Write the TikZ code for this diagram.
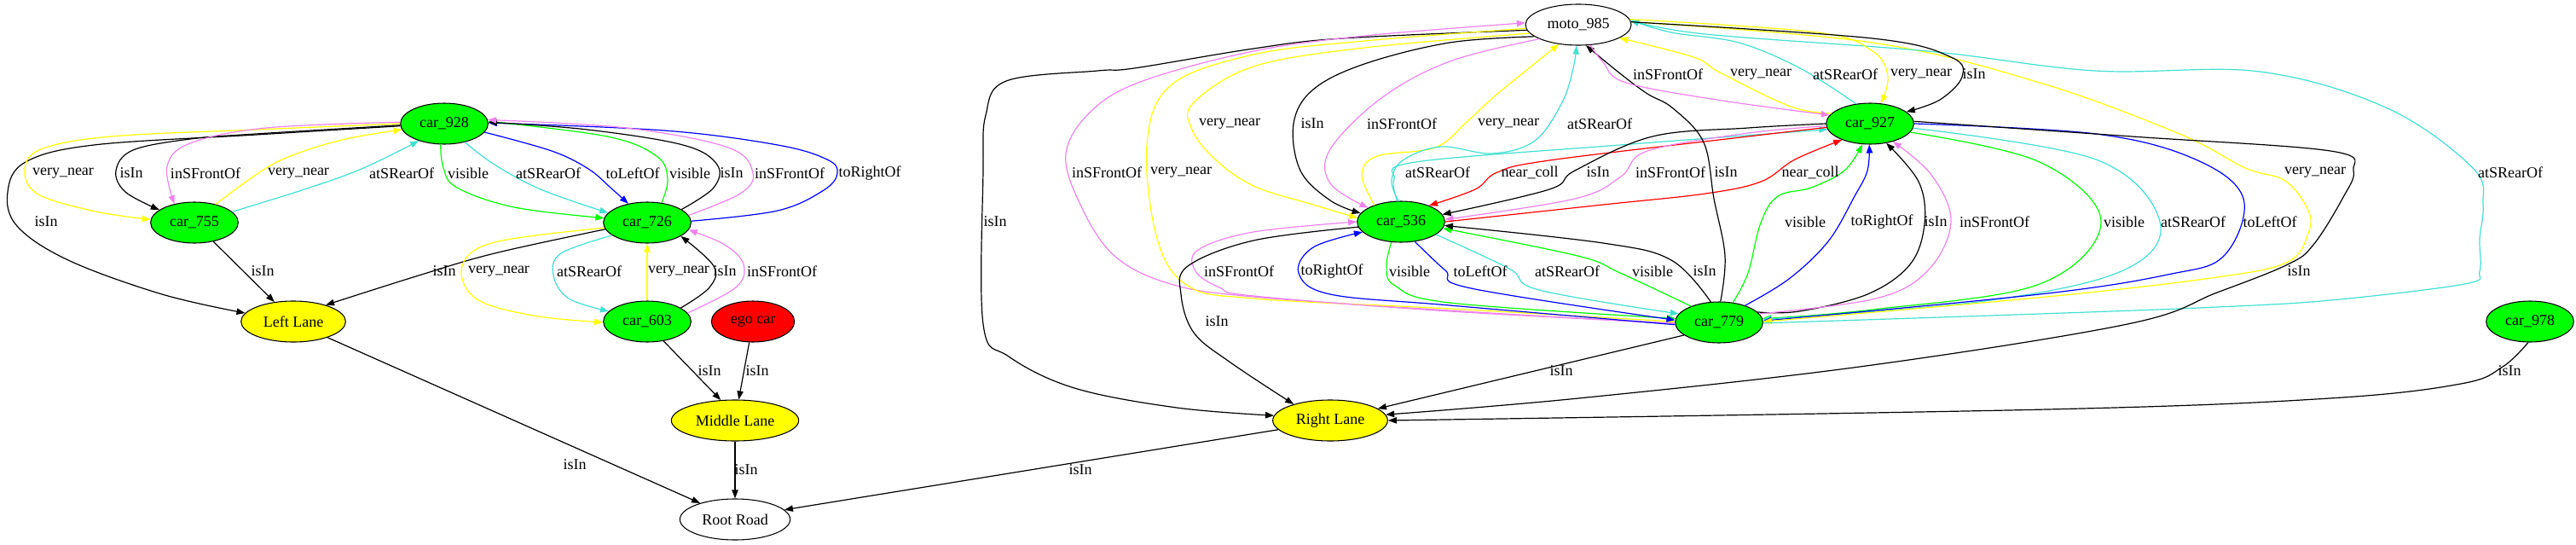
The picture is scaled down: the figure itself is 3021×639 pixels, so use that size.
\documentclass[tikz,border=0pt]{standalone}
\usepackage{fontspec}
\setmainfont{Liberation Serif}
\usetikzlibrary{shapes.geometric,arrows.meta}
\definecolor{gvgreen}{HTML}{00FF00}
\definecolor{gvyellow}{HTML}{FFFF00}
\definecolor{gvturq}{HTML}{40E0D0}
\definecolor{gvviolet}{HTML}{EE82EE}
\definecolor{gvblue}{HTML}{0000FF}
\definecolor{gvred}{HTML}{FF0000}
\begin{document}
\begin{tikzpicture}[x=0.75pt,y=-0.75pt, every node/.style={font=\fontsize{13.5}{16}\selectfont},
  gvnode/.style={ellipse,draw,line width=0.8pt,inner sep=0pt,minimum height=36pt},
  carnode/.style={gvnode,fill=gvgreen,minimum width=77pt},
  lanenode/.style={gvnode,fill=gvyellow},
  rel/.style={draw=#1,line width=0.9pt,smooth,tension=0.6,-{Triangle[length=7.5pt,width=5.5pt]}},
  lbl/.style={inner sep=0pt}]
\useasboundingbox (0,0) rectangle (3021,639);
\node[carnode] (car928) at (521,145) {car\_928};
\node[carnode] (car755) at (228,261) {car\_755};
\node[carnode] (car726) at (759,261) {car\_726};
\node[carnode] (car603) at (759,377) {car\_603};
\node[lanenode,minimum width=92pt] (leftlane) at (344,377) {Left Lane};
\node[gvnode,fill=gvred,minimum width=73pt] (egocar) at (883,377) {ego car};
\node[lanenode,minimum width=112pt] (midlane) at (862,493) {Middle Lane};
\node[gvnode,fill=white,minimum width=97pt] (rootroad) at (862,609) {Root Road};
\node[gvnode,fill=white,minimum width=93pt] (moto985) at (1851,29) {moto\_985};
\node[carnode] (car536) at (1643,260) {car\_536};
\node[carnode] (car779) at (2016,378) {car\_779};
\node[carnode] (car927) at (2193,145) {car\_927};
\node[carnode] (car978) at (2967,377) {car\_978};
\node[lanenode,minimum width=101pt] (rightlane) at (1560,493) {Right Lane};
% left group
\draw[rel=black] plot coordinates {(car928.183) (300,158) (110,170) (30,190) (9,225) (20,265) (80,305) (190,345) (leftlane.170)};
\draw[rel=gvyellow] plot coordinates {(car928.180) (300,152) (130,160) (48,175) (29,200) (45,228) (112,248) (car755.176)};
\draw[rel=black] plot coordinates {(car928.182) (300,157) (223,163) (156,176) (136,200) (147,225) (car755.160)};
\draw[rel=gvviolet] plot coordinates {(car928.178) (312,150) (223,168) (196,195) (car755.137)};
\draw[rel=gvyellow] plot coordinates {(car755.41) (312,197) (357,177) (410,162) (car928.188)};
\draw[rel=gvturq] plot coordinates {(car755.16) (357,222) (424,198) (car928.214)};
\draw[rel=black] (car755.-45) -- (leftlane.134);
\draw[rel=gvgreen] plot coordinates {(car928.-100) (520,197) (536,220) (603,243) (car726.174)};
\draw[rel=gvturq] plot coordinates {(car928.-42) (580,193) (634,222) (car726.166)};
\draw[rel=gvblue] plot coordinates {(car928.-12) (647,177) (690,198) (716,220) (car726.135)};
\draw[rel=gvblue] plot coordinates {(car726.2) (912,247) (966,223) (982,203) (970,187) (912,170) (779,153) (car928.1)};
\draw[rel=gvgreen] plot coordinates {(car726.54) (783,210) (770,183) (712,160) (car928.3)};
\draw[rel=black] plot coordinates {(car726.21) (837,220) (841,193) (801,170) (689,152) (car928.2)};
\draw[rel=gvviolet] plot coordinates {(car726.10) (868,227) (883,203) (854,173) (734,150) (car928.5)};
\draw[rel=black] plot coordinates {(car726.189) (580,297) (491,323) (leftlane.27)};
\draw[rel=gvyellow] plot coordinates {(car726.187) (580,284) (542,312) (558,350) (625,370) (car603.181)};
\draw[rel=gvturq] plot coordinates {(car726.200) (658,297) (649,323) (667,350) (car603.165)};
\draw[rel=gvyellow] (car603.north) -- (car726.south);
\draw[rel=black] plot coordinates {(car603.22) (832,337) (837,312) (car726.-22)};
\draw[rel=gvviolet] plot coordinates {(car603.12) (863,337) (872,310) (850,287) (car726.-10)};
\draw[rel=black] (car603.-50) -- (midlane.125);
\draw[rel=black] (egocar.-100) -- (midlane.80);
\draw[rel=black] (midlane.south) -- (rootroad.north);
\draw[rel=black] (leftlane.-25) -- (rootroad.155);
\draw[rel=black] (rightlane.190) -- (rootroad.11);
% right group
\draw[rel=black] plot coordinates {(moto985.186) (1574,45) (1470,57) (1330,80) (1287,83) (1180,95) (1156,135) (1153,200) (1153,380) (1183,418) (1260,455) (1380,478) (rightlane.175)};
\draw[rel=gvviolet] plot coordinates {(car779.182) (1700,364) (1470,348) (1373,333) (1307,300) (1267,240) (1250,180) (1280,130) (1340,95) (1470,60) (1600,42) (moto985.178)};
\draw[rel=gvyellow] plot coordinates {(moto985.184) (1600,48) (1470,64) (1373,100) (1345,170) (1357,280) (1393,335) (1470,350) (1700,362) (car779.179)};
\draw[rel=gvyellow] plot coordinates {(moto985.190) (1600,56) (1470,78) (1400,120) (1397,150) (1423,185) (1470,218) (1540,240) (car536.175)};
\draw[rel=black] plot coordinates {(moto985.195) (1700,50) (1600,75) (1540,105) (1517,145) (1525,200) (1560,235) (car536.168)};
\draw[rel=gvviolet] plot coordinates {(moto985.200) (1700,72) (1620,115) (1560,175) (1560,215) (car536.157)};
\draw[rel=gvyellow] plot coordinates {(car536.148) (1597,205) (1615,183) (1683,173) (1720,143) (1756,110) (moto985.225)};
\draw[rel=gvturq] plot coordinates {(car536.97) (1632,212) (1645,188) (1690,172) (1750,180) (1800,165) (1832,120) (1845,80) (moto985.265)};
\draw[rel=gvturq] plot coordinates {(car536.100) (1635,210) (1660,190) (1900,170) (2100,155) (car927.188)};
\draw[rel=gvred] plot coordinates {(car927.185) (2050,160) (1817,188) (1756,202) (1730,222) (car536.30)};
\draw[rel=black] plot coordinates {(car927.180) (2050,150) (1938,160) (1847,200) (1817,222) (car536.10)};
\draw[rel=gvviolet] plot coordinates {(car927.183) (2050,156) (1932,177) (1901,207) (1847,233) (car536.3)};
\draw[rel=gvred] plot coordinates {(car536.0) (1880,240) (2000,227) (2065,213) (2105,187) (car927.210)};
\draw[rel=black] plot coordinates {(car779.86) (2023,300) (2010,233) (1998,167) (1962,127) (1932,110) (1901,87) (moto985.-70)};
\draw[rel=gvviolet] plot coordinates {(car779.181) (1700,365) (1470,347) (1430,337) (1402,318) (1405,293) (1470,272) (car536.180)};
\draw[rel=gvblue] plot coordinates {(car779.183) (1700,358) (1560,345) (1523,320) (1540,290) (car536.195)};
\draw[rel=gvgreen] plot coordinates {(car536.-115) (1626,312) (1636,335) (1700,355) (car779.175)};
\draw[rel=gvblue] plot coordinates {(car536.-55) (1695,317) (1725,338) (car779.177)};
\draw[rel=gvturq] plot coordinates {(car536.-20) (1770,315) (1805,340) (car779.168)};
\draw[rel=gvgreen] plot coordinates {(car779.150) (1900,320) (1850,300) (car536.-9)};
\draw[rel=black] plot coordinates {(car779.112) (1960,305) (1880,285) (car536.-5)};
\draw[rel=gvgreen] plot coordinates {(car779.55) (2050,320) (2065,261) (2085,230) (2124,220) (2163,200) (car927.-110)};
\draw[rel=gvblue] plot coordinates {(car779.33) (2098,327) (2144,283) (2175,230) (2190,200) (car927.-92)};
\draw[rel=black] plot coordinates {(car779.15) (2110,365) (2190,345) (2240,310) (2257,262) (2250,213) (car927.-50)};
\draw[rel=gvviolet] plot coordinates {(car779.12) (2200,350) (2261,317) (2288,260) (2265,205) (car927.-38)};
\draw[rel=gvgreen] plot coordinates {(car927.-12) (2392,190) (2464,260) (2392,333) (2196,363) (car779.5)};
\draw[rel=gvturq] plot coordinates {(car927.-6) (2458,187) (2533,260) (2490,317) (2327,353) (car779.4)};
\draw[rel=gvblue] plot coordinates {(car927.0) (2458,157) (2575,187) (2631,233) (2608,300) (2542,322) (2392,345) (car779.2)};
\draw[rel=gvyellow] plot coordinates {(moto985.3) (2196,50) (2392,97) (2556,157) (2633,197) (2680,212) (2707,247) (2707,273) (2683,307) (2600,325) (2400,348) (car779.1)};
\draw[rel=gvturq] plot coordinates {(car779.-1) (2392,368) (2600,360) (2733,352) (2890,333) (2908,318) (2908,280) (2912,240) (2900,197) (2800,127) (2650,84) (2457,83) (2261,60) (2000,40) (moto985.5)};
\draw[rel=gvturq] plot coordinates {(car927.125) (2111,80) (2039,50) (1960,38) (moto985.5)};
\draw[rel=gvyellow] plot coordinates {(car927.165) (2100,125) (2017,85) (1986,67) (moto985.-18)};
\draw[rel=gvviolet] plot coordinates {(moto985.-60) (1880,73) (1907,97) (2020,118) (car927.168)};
\draw[rel=gvyellow] plot coordinates {(moto985.6) (2131,38) (2196,60) (2214,90) (car927.62)};
\draw[rel=black] plot coordinates {(moto985.3) (2196,45) (2288,67) (2301,90) (2275,117) (car927.18)};
\draw[rel=black] plot coordinates {(car927.3) (2500,160) (2733,177) (2760,200) (2747,233) (2713,287) (2683,310) (2600,343) (2495,380) (2181,430) (1851,467) (rightlane.6)};
\draw[rel=black] plot coordinates {(car978.-95) (2935,430) (2886,450) (2732,467) (2401,480) (rightlane.0)};
\draw[rel=black] (car779.200) -- (rightlane.14);
\draw[rel=black] plot coordinates {(car536.187) (1470,282) (1393,312) (1385,345) (1400,390) (1443,425) (rightlane.156)};
% edge labels
\node[lbl] (l1) at (74,203) {very\_near}; \node[lbl] (l2) at (154,203) {isIn}; \node[lbl] (l3) at (241,203) {inSFrontOf}; \node[lbl] (l4) at (350,203) {very\_near};
\node[lbl] (l5) at (471,203) {atSRearOf}; \node[lbl] (l6) at (549,203) {visible}; \node[lbl] (l7) at (643,203) {atSRearOf}; \node[lbl] (l8) at (742,203) {toLeftOf};
\node[lbl] (l9) at (809,203) {visible}; \node[lbl] (l10) at (858,203) {isIn}; \node[lbl] (l11) at (926,203) {inSFrontOf}; \node[lbl] (l12) at (1020,203) {toRightOf};
\node[lbl] (l13) at (54,260) {isIn}; \node[lbl] (l14) at (308,318) {isIn}; \node[lbl] (l15) at (521,318) {isIn}; \node[lbl] (l16) at (585,318) {very\_near};
\node[lbl] (l17) at (691,318) {atSRearOf}; \node[lbl] (l18) at (796,318) {very\_near}; \node[lbl] (l19) at (850,318) {isIn}; \node[lbl] (l20) at (917,318) {inSFrontOf};
\node[lbl] (l21) at (832,435) {isIn}; \node[lbl] (l22) at (888,435) {isIn}; \node[lbl] (l23) at (875,551) {isIn}; \node[lbl] (l24) at (674,545) {isIn}; \node[lbl] (l25) at (1267,551) {isIn};
\node[lbl] (l26) at (1167,260) {isIn}; \node[lbl] (l27) at (1298,202) {inSFrontOf}; \node[lbl] (l28) at (1385,202) {very\_near}; \node[lbl] (l29) at (1442,145) {very\_near};
\node[lbl] (l30) at (1539,145) {isIn}; \node[lbl] (l31) at (1644,145) {inSFrontOf}; \node[lbl] (l32) at (1769,145) {very\_near}; \node[lbl] (l33) at (1876,145) {atSRearOf};
\node[lbl] (l34) at (1686,202) {atSRearOf}; \node[lbl] (l35) at (1794,202) {near\_coll}; \node[lbl] (l36) at (1874,202) {isIn}; \node[lbl] (l37) at (1959,202) {inSFrontOf};
\node[lbl] (l38) at (2024,202) {isIn}; \node[lbl] (l39) at (2123,202) {near\_coll}; \node[lbl] (l40) at (2715,202) {very\_near}; \node[lbl] (l41) at (2944,202) {atSRearOf};
\node[lbl] (l42) at (1956,87) {inSFrontOf}; \node[lbl] (l43) at (2065,87) {very\_near}; \node[lbl] (l44) at (2164,87) {atSRearOf}; \node[lbl] (l45) at (2253,87) {very\_near}; \node[lbl] (l46) at (2315,87) {isIn};
\node[lbl] (l47) at (2117,260) {visible}; \node[lbl] (l48) at (2207,260) {toRightOf}; \node[lbl] (l49) at (2270,260) {isIn}; \node[lbl] (l50) at (2339,260) {inSFrontOf};
\node[lbl] (l51) at (2491,260) {visible}; \node[lbl] (l52) at (2572,260) {atSRearOf}; \node[lbl] (l53) at (2662,260) {toLeftOf};
\node[lbl] (l54) at (1453,318) {inSFrontOf}; \node[lbl] (l55) at (1562,318) {toRightOf}; \node[lbl] (l56) at (1653,318) {visible}; \node[lbl] (l57) at (1736,318) {toLeftOf};
\node[lbl] (l58) at (1838,318) {atSRearOf}; \node[lbl] (l59) at (1938,318) {visible}; \node[lbl] (l60) at (1999,318) {isIn};
\node[lbl] (l61) at (1427,377) {isIn}; \node[lbl] (l62) at (1831,435) {isIn}; \node[lbl] (l63) at (2943,435) {isIn}; \node[lbl] (l64) at (2696,318) {isIn};
\end{tikzpicture}
\end{document}
